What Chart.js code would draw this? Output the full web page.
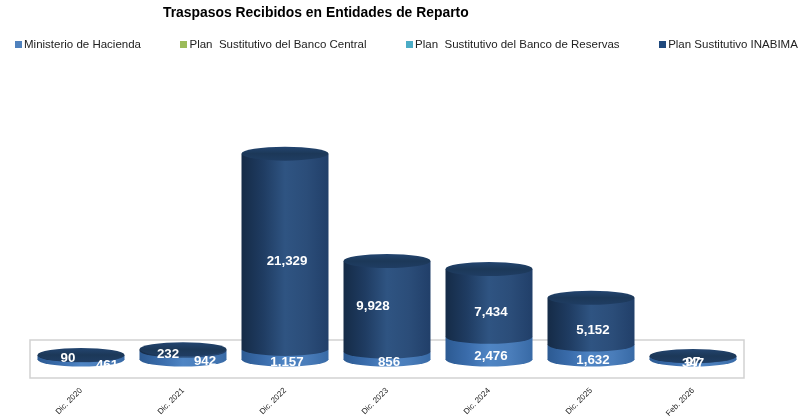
<!DOCTYPE html>
<html>
<head>
<meta charset="utf-8">
<style>
  html, body { margin: 0; padding: 0; background: #fff; }
  #wrap { position: relative; width: 804px; height: 417px; }
  #leyenda { position: absolute; left: 15px; top: 37px; display: flex; gap: 39.5px; white-space: pre;
             font: 11.5px "Liberation Sans", Arial, sans-serif; color: #222; line-height: 14px; }
  #leyenda span.item { display: flex; align-items: center; }
  #leyenda i { display: block; width: 7px; height: 7px; margin-right: 2px; }
</style>
<script src="https://cdn.jsdelivr.net/npm/chart.js@4"></script>
</head>
<body>
<div id="wrap">
  <canvas id="chartTraspasos" width="804" height="417"></canvas>
  <div id="leyenda"></div>
</div>
<script>
const categorias = ['Dic. 2020', 'Dic. 2021', 'Dic. 2022', 'Dic. 2023', 'Dic. 2024', 'Dic. 2025', 'Feb. 2026'];
const hacienda = [461, 942, 1157, 856, 2476, 1632, 347];
const bancoCentral = [0, 0, 0, 0, 0, 0, 0];
const bancoReservas = [0, 0, 0, 0, 0, 0, 0];
const inabima = [90, 232, 21329, 9928, 7434, 5152, 97];

const titulo = 'Traspasos Recibidos en Entidades de Reparto';
const nombres = ['Ministerio de Hacienda', 'Plan  Sustitutivo del Banco Central', 'Plan  Sustitutivo del Banco de Reservas', 'Plan Sustitutivo INABIMA'];
const coloresLeyenda = ['#4f81bd', '#9bbb59', '#4bacc6', '#1f497d'];

// gradientes horizontales para simular el cilindro
const paradas = {
    0: ['#2c5a92', '#3a6cab', '#4f85c4', '#4a7dba', '#386aa6'],
    1: ['#6f8a3c', '#8aa84e', '#9bbb59', '#94b254', '#7f9c46'],
    2: ['#347c90', '#429cb3', '#4bacc6', '#46a3bb', '#3b8ba1'],
    3: ['#152b47', '#1f3c62', '#2f5482', '#2b4d79', '#213f69']
};

const ANCHO = 0.853;
const RY = 7;

function radioX(chart) {
    return chart.scales.x.width / categorias.length * ANCHO / 2;
}

function gradiente(ctx, x, rx, d) {
    const g = ctx.createLinearGradient(x - rx, 0, x + rx, 0);
    paradas[d].forEach((c, i) => g.addColorStop(i / 4, c));
    return g;
}

function colorBarra(d) {
    return function (c) {
        if (c.type !== 'data') return coloresLeyenda[d];
        const x = c.chart.scales.x.getPixelForValue(c.dataIndex);
        const rx = radioX(c.chart);
        // antes del primer layout la escala todavia no tiene medidas
        if (!isFinite(x) || !isFinite(rx)) return coloresLeyenda[d];
        return gradiente(c.chart.ctx, x, rx, d);
    };
}

// ajuste de las etiquetas respecto al centro de cada tramo
const desvios = {
    0: [[26, 7], [22, 6], [2, 8], [2, 6], [2, 8], [2, 8], [0, 5]],
    3: [[-13, 3], [-15, 4], [2, 10], [-14, 0], [2, 9], [2, 9], [0, 6]]
};

const cilindros = {
    id: 'cilindros',
    afterLayout(chart) {
        // el titulo no va centrado en el original
        chart.titleBlock.left = 163;
    },
    beforeDatasetsDraw(chart) {
        const { ctx, scales: { x, y } } = chart;
        const y0 = y.getPixelForValue(0);
        ctx.save();
        ctx.strokeStyle = '#d2d2d2';
        ctx.lineWidth = 1.5;
        ctx.strokeRect(x.left, y0 - 20, x.right - x.left, 38);
        ctx.restore();
    },
    afterDatasetsDraw(chart) {
        const { ctx } = chart;
        const rx = radioX(chart);
        categorias.forEach((cat, i) => {
            const tramos = chart.data.datasets
                .map((ds, d) => ({ d, el: chart.getDatasetMeta(d).data[i], v: ds.data[i] }))
                .filter(s => s.v > 0);
            if (!tramos.length) return;

            tramos.forEach(s => {
                const { x, base } = s.el;
                ctx.fillStyle = gradiente(ctx, x, rx, s.d);
                ctx.beginPath();
                ctx.ellipse(x, base - 0.5, rx, RY, 0, 0, Math.PI);
                ctx.fill();
            });

            const { x, y } = tramos[tramos.length - 1].el;
            const g = ctx.createLinearGradient(0, y - RY, 0, y + RY);
            g.addColorStop(0, '#234570');
            g.addColorStop(0.5, '#1c3858');
            g.addColorStop(1, '#1f3d63');
            ctx.fillStyle = g;
            ctx.beginPath();
            ctx.ellipse(x, y, rx, RY, 0, 0, Math.PI * 2);
            ctx.fill();
        });
    },
    afterDraw(chart) {
        const { ctx } = chart;
        ctx.save();
        ctx.fillStyle = '#ffffff';
        ctx.font = 'bold 13.3px "Liberation Sans", Arial, sans-serif';
        ctx.textAlign = 'center';
        ctx.textBaseline = 'middle';
        chart.data.datasets.forEach((ds, d) => {
            chart.getDatasetMeta(d).data.forEach((el, i) => {
                if (!(ds.data[i] > 0)) return;
                const desvio = desvios[d][i];
                ctx.fillText(ds.data[i].toLocaleString('en-US'), el.x + desvio[0], (el.y + el.base) / 2 + desvio[1]);
            });
        });
        ctx.restore();
    }
};

nombres.forEach((nombre, d) => {
    const item = document.createElement('span');
    item.className = 'item';
    const caja = document.createElement('i');
    caja.style.background = coloresLeyenda[d];
    item.appendChild(caja);
    item.appendChild(document.createTextNode(nombre));
    document.getElementById('leyenda').appendChild(item);
});

const datasets = nombres.map((nombre, d) => ({
    label: nombre,
    data: [hacienda, bancoCentral, bancoReservas, inabima][d],
    backgroundColor: colorBarra(d),
    borderWidth: 0,
    barPercentage: 1,
    categoryPercentage: ANCHO
}));

new Chart(document.getElementById('chartTraspasos'), {
    type: 'bar',
    data: { labels: categorias, datasets: datasets },
    options: {
        responsive: false,
        animation: false,
        layout: { padding: { top: 5, bottom: 1 } },
        plugins: {
            tooltip: { enabled: false },
            legend: { display: false },
            title: {
                display: true,
                text: titulo,
                align: 'start',
                color: '#000',
                font: { family: '"Liberation Sans"', size: 13.9, weight: 'bold' },
                padding: { top: 0, bottom: 63 }
            }
        },
        scales: {
            x: {
                stacked: true,
                grid: { display: false },
                border: { display: false },
                ticks: {
                    maxRotation: 45,
                    minRotation: 45,
                    padding: 18,
                    color: '#222',
                    font: { family: '"Liberation Sans"', size: 8 }
                },
                afterFit(s) { s.height = 56; }
            },
            y: {
                stacked: true,
                min: 0,
                max: 30000,
                grid: { display: false },
                border: { display: false },
                ticks: { display: false },
                afterFit(s) { s.width = 30; }
            },
            yDer: {
                position: 'right',
                min: 0,
                max: 30000,
                grid: { display: false },
                border: { display: false },
                ticks: { display: false },
                afterFit(s) { s.width = 60; }
            }
        }
    },
    plugins: [cilindros]
});
</script>
</body>
</html>
